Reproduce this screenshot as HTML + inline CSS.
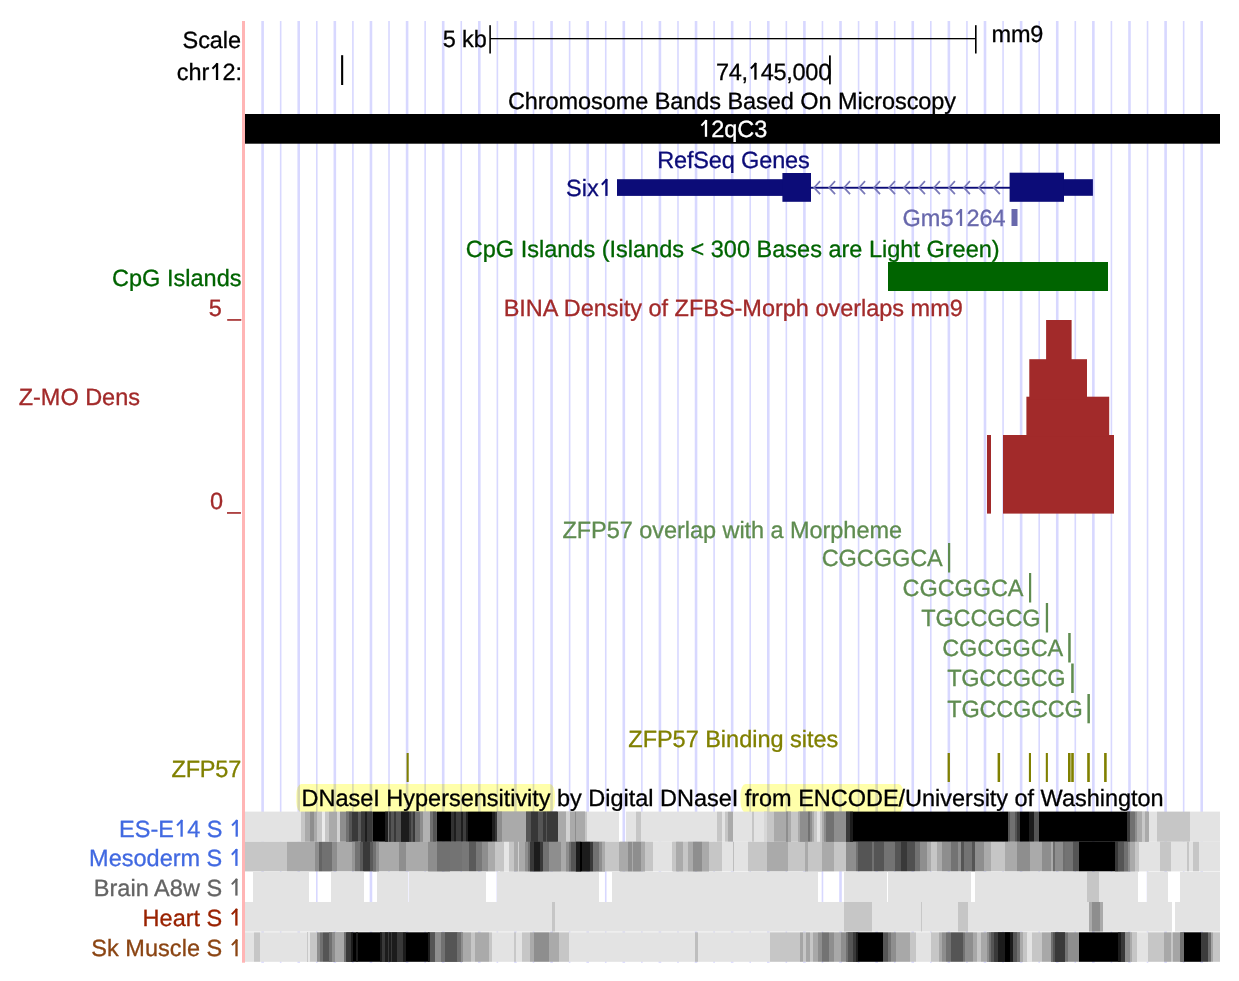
<!DOCTYPE html>
<html><head><meta charset="utf-8"><style>
html,body{margin:0;padding:0;background:#fff;}
body{width:1239px;height:981px;overflow:hidden;}
svg{display:block;}
text{font-family:"Liberation Sans",sans-serif;font-size:23.5px;text-rendering:geometricPrecision;stroke-width:0.3px;}
</style></head><body>
<svg width="1239" height="981" viewBox="0 0 1239 981">
<rect x="0" y="0" width="1239" height="981" fill="#fff"/>
<g fill="#d8d8ff"><rect x="261.30" y="21" width="2.6" height="941.8"/><rect x="279.86" y="21" width="1.6" height="941.8"/><rect x="297.42" y="21" width="2.6" height="941.8"/><rect x="315.98" y="21" width="1.6" height="941.8"/><rect x="333.54" y="21" width="2.6" height="941.8"/><rect x="352.10" y="21" width="1.6" height="941.8"/><rect x="369.66" y="21" width="2.6" height="941.8"/><rect x="388.22" y="21" width="1.6" height="941.8"/><rect x="405.78" y="21" width="2.6" height="941.8"/><rect x="424.34" y="21" width="1.6" height="941.8"/><rect x="441.90" y="21" width="2.6" height="941.8"/><rect x="460.46" y="21" width="1.6" height="941.8"/><rect x="478.02" y="21" width="2.6" height="941.8"/><rect x="496.58" y="21" width="1.6" height="941.8"/><rect x="514.14" y="21" width="2.6" height="941.8"/><rect x="532.70" y="21" width="1.6" height="941.8"/><rect x="550.26" y="21" width="2.6" height="941.8"/><rect x="568.82" y="21" width="1.6" height="941.8"/><rect x="586.38" y="21" width="2.6" height="941.8"/><rect x="604.94" y="21" width="1.6" height="941.8"/><rect x="622.50" y="21" width="2.6" height="941.8"/><rect x="641.06" y="21" width="1.6" height="941.8"/><rect x="658.62" y="21" width="2.6" height="941.8"/><rect x="677.18" y="21" width="1.6" height="941.8"/><rect x="694.74" y="21" width="2.6" height="941.8"/><rect x="713.30" y="21" width="1.6" height="941.8"/><rect x="730.86" y="21" width="2.6" height="941.8"/><rect x="749.42" y="21" width="1.6" height="941.8"/><rect x="766.98" y="21" width="2.6" height="941.8"/><rect x="785.54" y="21" width="1.6" height="941.8"/><rect x="803.10" y="21" width="2.6" height="941.8"/><rect x="821.66" y="21" width="1.6" height="941.8"/><rect x="839.22" y="21" width="2.6" height="941.8"/><rect x="857.78" y="21" width="1.6" height="941.8"/><rect x="875.34" y="21" width="2.6" height="941.8"/><rect x="893.90" y="21" width="1.6" height="941.8"/><rect x="911.46" y="21" width="2.6" height="941.8"/><rect x="930.02" y="21" width="1.6" height="941.8"/><rect x="947.58" y="21" width="2.6" height="941.8"/><rect x="966.14" y="21" width="1.6" height="941.8"/><rect x="983.70" y="21" width="2.6" height="941.8"/><rect x="1002.26" y="21" width="1.6" height="941.8"/><rect x="1019.82" y="21" width="2.6" height="941.8"/><rect x="1038.38" y="21" width="1.6" height="941.8"/><rect x="1055.94" y="21" width="2.6" height="941.8"/><rect x="1074.50" y="21" width="1.6" height="941.8"/><rect x="1092.06" y="21" width="2.6" height="941.8"/><rect x="1110.62" y="21" width="1.6" height="941.8"/><rect x="1128.18" y="21" width="2.6" height="941.8"/><rect x="1146.74" y="21" width="1.6" height="941.8"/><rect x="1164.30" y="21" width="2.6" height="941.8"/><rect x="1182.86" y="21" width="1.6" height="941.8"/><rect x="1200.42" y="21" width="2.6" height="941.8"/></g>
<rect x="242" y="21" width="3" height="941.7" fill="#ffb5b5"/>
<g fill="#000">
<rect x="489.3" y="25.2" width="1.6" height="28.3"/>
<rect x="975" y="25.2" width="1.6" height="28.3"/>
<rect x="490" y="38" width="486" height="1.3"/>
<rect x="341.1" y="55.2" width="2.1" height="29.8"/>
<rect x="829" y="55.4" width="1.8" height="29"/>
<rect x="245" y="114" width="975" height="29.7"/>
</g>
<text x="182.6" y="47.9" textLength="58.4" lengthAdjust="spacing" fill="#000" stroke="#000">Scale</text><text x="176.8" y="80.0" textLength="65.33" lengthAdjust="spacing" fill="#000" stroke="#000">chr&#x2007;2:</text><rect x="215.88" y="63.20" width="2.3" height="16.8" fill="#000"/><path d="M217.63 63.40 L212.43 68.80" stroke="#000" stroke-width="2" fill="none"/><text x="442.7" y="47.4" textLength="44.02" lengthAdjust="spacing" fill="#000" stroke="#000">5 kb</text><text x="991.6" y="41.8" textLength="51.63" lengthAdjust="spacing" fill="#000" stroke="#000">mm9</text><text x="716.0" y="79.7" textLength="115.22" lengthAdjust="spacing" fill="#000" stroke="#000">74,&#x2007;45,000</text><rect x="754.30" y="62.90" width="2.3" height="16.8" fill="#000"/><path d="M756.05 63.10 L750.85 68.50" stroke="#000" stroke-width="2" fill="none"/><text x="507.9" y="108.9" textLength="448.21" lengthAdjust="spacing" fill="#000" stroke="#000">Chromosome Bands Based On Microscopy</text><text x="698.4" y="136.8" textLength="68.85" lengthAdjust="spacing" fill="#fff" stroke="#fff">&#x2007;2qC3</text><rect x="704.84" y="120.00" width="2.3" height="16.8" fill="#fff"/><path d="M706.59 120.20 L701.39 125.60" stroke="#fff" stroke-width="2" fill="none"/>
<g fill="#0c0c78">
<rect x="617" y="179.2" width="166" height="16.7"/>
<rect x="782.4" y="173" width="28.6" height="28.8"/>
<rect x="811" y="186.8" width="199" height="1.9"/>
<rect x="1009.6" y="172.7" width="54.4" height="29.1"/>
<rect x="1063.9" y="179.2" width="29" height="16.6"/>
</g>
<g fill="none" stroke="#7878b8" stroke-width="1.7"><path d="M820.10 181.2 L814.10 187.7 L820.10 194.2"/><path d="M835.08 181.2 L829.08 187.7 L835.08 194.2"/><path d="M850.06 181.2 L844.06 187.7 L850.06 194.2"/><path d="M865.04 181.2 L859.04 187.7 L865.04 194.2"/><path d="M880.02 181.2 L874.02 187.7 L880.02 194.2"/><path d="M895.00 181.2 L889.00 187.7 L895.00 194.2"/><path d="M909.98 181.2 L903.98 187.7 L909.98 194.2"/><path d="M924.96 181.2 L918.96 187.7 L924.96 194.2"/><path d="M939.94 181.2 L933.94 187.7 L939.94 194.2"/><path d="M954.92 181.2 L948.92 187.7 L954.92 194.2"/><path d="M969.90 181.2 L963.90 187.7 L969.90 194.2"/><path d="M984.88 181.2 L978.88 187.7 L984.88 194.2"/><path d="M999.86 181.2 L993.86 187.7 L999.86 194.2"/></g>
<text x="657.2" y="168.3" textLength="152.56" lengthAdjust="spacing" fill="#0c0c78" stroke="#0c0c78">RefSeq Genes</text><text x="566.0" y="195.9" textLength="45.92" lengthAdjust="spacing" fill="#0c0c78" stroke="#0c0c78">Six&#x2007;</text><rect x="605.28" y="179.10" width="2.3" height="16.8" fill="#0c0c78"/><path d="M607.03 179.30 L601.83 184.70" stroke="#0c0c78" stroke-width="2" fill="none"/><text x="902.6" y="226.0" textLength="103.0" lengthAdjust="spacing" fill="#6868ac" stroke="#6868ac">Gm5&#x2007;264</text><rect x="959.85" y="209.20" width="2.3" height="16.8" fill="#6868ac"/><path d="M961.60 209.40 L956.40 214.80" stroke="#6868ac" stroke-width="2" fill="none"/>
<rect x="1011.5" y="209" width="6" height="17" fill="#6868ac"/>
<rect x="888" y="262" width="220" height="29" fill="#006400"/>
<text x="465.8" y="256.6" textLength="533.81" lengthAdjust="spacing" fill="#006400" stroke="#006400">CpG Islands (Islands &lt; 300 Bases are Light Green)</text><text x="112.0" y="285.5" textLength="129.51" lengthAdjust="spacing" fill="#006400" stroke="#006400">CpG Islands</text>
<g fill="#a22a2a">
<rect x="987" y="435" width="4" height="78.6"/>
<rect x="1003" y="435" width="111" height="78.6"/>
<rect x="1026.4" y="396.7" width="82.8" height="40"/>
<rect x="1029.3" y="359.2" width="57.7" height="40"/>
<rect x="1046.1" y="320" width="25.5" height="40"/>
</g>
<text x="208.7" y="315.6" textLength="32.07" lengthAdjust="spacing" fill="#a22a2a" stroke="#a22a2a">5 _</text><text x="503.7" y="315.9" textLength="459.1" lengthAdjust="spacing" fill="#a22a2a" stroke="#a22a2a">BINA Density of ZFBS-Morph overlaps mm9</text><text x="18.7" y="405.2" textLength="121.24" lengthAdjust="spacing" fill="#a22a2a" stroke="#a22a2a">Z-MO Dens</text><text x="210.0" y="508.8" textLength="30.67" lengthAdjust="spacing" fill="#a22a2a" stroke="#a22a2a">0 _</text>
<g fill="#5f8c50">
<rect x="948" y="543" width="2.2" height="29.5"/>
<rect x="1029" y="573" width="2.2" height="29.5"/>
<rect x="1045.8" y="603" width="2.3" height="29.5"/>
<rect x="1068.2" y="633" width="2.5" height="29.5"/>
<rect x="1071.2" y="663.5" width="2.5" height="29.5"/>
<rect x="1087.4" y="694" width="2.5" height="29.3"/>
</g>
<text x="562.5" y="538.1" textLength="339.51" lengthAdjust="spacing" fill="#5f8c50" stroke="#5f8c50">ZFP57 overlap with a Morpheme</text><text x="821.7" y="566.0" textLength="121.04" lengthAdjust="spacing" fill="#5f8c50" stroke="#5f8c50">CGCGGCA</text><text x="902.6" y="595.8" textLength="120.84" lengthAdjust="spacing" fill="#5f8c50" stroke="#5f8c50">CGCGGCA</text><text x="921.2" y="626.0" textLength="119.31" lengthAdjust="spacing" fill="#5f8c50" stroke="#5f8c50">TGCCGCG</text><text x="942.2" y="655.8" textLength="121.04" lengthAdjust="spacing" fill="#5f8c50" stroke="#5f8c50">CGCGGCA</text><text x="947.3" y="686.1" textLength="118.31" lengthAdjust="spacing" fill="#5f8c50" stroke="#5f8c50">TGCCGCG</text><text x="947.3" y="716.6" textLength="135.48" lengthAdjust="spacing" fill="#5f8c50" stroke="#5f8c50">TGCCGCCG</text>
<g fill="#808000">
<rect x="406.6" y="753" width="2.1" height="29"/>
<rect x="947.6" y="753" width="2.3" height="29"/>
<rect x="997.6" y="753" width="2.5" height="29"/>
<rect x="1028.9" y="753" width="2.1" height="29"/>
<rect x="1045.8" y="753" width="2.1" height="29"/>
<rect x="1068" y="753" width="2.6" height="29"/>
<rect x="1071.2" y="753" width="2.6" height="29"/>
<rect x="1087.2" y="753" width="2.6" height="29"/>
<rect x="1104.1" y="753" width="2.6" height="29"/>
</g>
<text x="628.3" y="747.3" textLength="209.9" lengthAdjust="spacing" fill="#808000" stroke="#808000">ZFP57 Binding sites</text><text x="171.5" y="776.5" textLength="69.73" lengthAdjust="spacing" fill="#808000" stroke="#808000">ZFP57</text>
<g style="mix-blend-mode:multiply" fill="#ffffaa">
<rect x="296.3" y="784" width="258.6" height="28.4" rx="5" ry="11"/>
<rect x="740.5" y="784" width="163.1" height="28.4" rx="5" ry="11"/>
</g>
<text x="301.6" y="806.3" textLength="862.07" lengthAdjust="spacing" fill="#000" stroke="#000">DNaseI Hypersensitivity by Digital DNaseI from ENCODE/University of Washington</text>
<text x="119.0" y="836.7" textLength="123.2" lengthAdjust="spacing" fill="#4169e1" stroke="#4169e1">ES-E&#x2007;4 S &#x2007;</text><rect x="180.47" y="819.90" width="2.3" height="16.8" fill="#4169e1"/><path d="M182.22 820.10 L177.02 825.50" stroke="#4169e1" stroke-width="2" fill="none"/><rect x="235.56" y="819.90" width="2.3" height="16.8" fill="#4169e1"/><path d="M237.31 820.10 L232.11 825.50" stroke="#4169e1" stroke-width="2" fill="none"/><text x="89.1" y="865.9" textLength="152.81" lengthAdjust="spacing" fill="#4169e1" stroke="#4169e1">Mesoderm S &#x2007;</text><rect x="235.27" y="849.10" width="2.3" height="16.8" fill="#4169e1"/><path d="M237.02 849.30 L231.82 854.70" stroke="#4169e1" stroke-width="2" fill="none"/><text x="93.7" y="895.6" textLength="148.21" lengthAdjust="spacing" fill="#646464" stroke="#646464">Brain A8w S &#x2007;</text><rect x="235.27" y="878.80" width="2.3" height="16.8" fill="#646464"/><path d="M237.02 879.00 L231.82 884.40" stroke="#646464" stroke-width="2" fill="none"/><text x="142.6" y="925.6" textLength="99.28" lengthAdjust="spacing" fill="#992200" stroke="#992200">Heart S &#x2007;</text><rect x="235.24" y="908.80" width="2.3" height="16.8" fill="#992200"/><path d="M236.99 909.00 L231.79 914.40" stroke="#992200" stroke-width="2" fill="none"/><text x="91.2" y="956.3" textLength="150.8" lengthAdjust="spacing" fill="#8b4513" stroke="#8b4513">Sk Muscle S &#x2007;</text><rect x="235.36" y="939.50" width="2.3" height="16.8" fill="#8b4513"/><path d="M237.11 939.70 L231.91 945.10" stroke="#8b4513" stroke-width="2" fill="none"/>
<g><rect x="245" y="811.6" width="56" height="30.2" fill="#e3e3e3"/><rect x="301" y="811.6" width="4" height="30.2" fill="#c6c6c6"/><rect x="305" y="811.6" width="5" height="30.2" fill="#aaaaaa"/><rect x="310" y="811.6" width="4" height="30.2" fill="#8e8e8e"/><rect x="314" y="811.6" width="3" height="30.2" fill="#aaaaaa"/><rect x="317" y="811.6" width="5" height="30.2" fill="#c6c6c6"/><rect x="322" y="811.6" width="3" height="30.2" fill="#ebebeb"/><rect x="325" y="811.6" width="4" height="30.2" fill="#c6c6c6"/><rect x="329" y="811.6" width="8" height="30.2" fill="#aaaaaa"/><rect x="337" y="811.6" width="3" height="30.2" fill="#d2d2d2"/><rect x="340" y="811.6" width="6" height="30.2" fill="#8e8e8e"/><rect x="346" y="811.6" width="6" height="30.2" fill="#646464"/><rect x="352" y="811.6" width="6" height="30.2" fill="#393939"/><rect x="358" y="811.6" width="3" height="30.2" fill="#5a5a5a"/><rect x="361" y="811.6" width="6" height="30.2" fill="#3c3c3c"/><rect x="367" y="811.6" width="6" height="30.2" fill="#464646"/><rect x="373" y="811.6" width="12" height="30.2" fill="#000000"/><rect x="385" y="811.6" width="4" height="30.2" fill="#323232"/><rect x="389" y="811.6" width="5" height="30.2" fill="#646464"/><rect x="394" y="811.6" width="7" height="30.2" fill="#555555"/><rect x="401" y="811.6" width="8" height="30.2" fill="#1c1c1c"/><rect x="409" y="811.6" width="6" height="30.2" fill="#555555"/><rect x="415" y="811.6" width="4" height="30.2" fill="#717171"/><rect x="419" y="811.6" width="4" height="30.2" fill="#8e8e8e"/><rect x="423" y="811.6" width="7" height="30.2" fill="#b2b2b2"/><rect x="430" y="811.6" width="3" height="30.2" fill="#787878"/><rect x="433" y="811.6" width="4" height="30.2" fill="#5a5a5a"/><rect x="437" y="811.6" width="14" height="30.2" fill="#000000"/><rect x="451" y="811.6" width="3" height="30.2" fill="#323232"/><rect x="454" y="811.6" width="2" height="30.2" fill="#1e1e1e"/><rect x="456" y="811.6" width="5" height="30.2" fill="#3c3c3c"/><rect x="461" y="811.6" width="2" height="30.2" fill="#1e1e1e"/><rect x="463" y="811.6" width="3" height="30.2" fill="#3e3e3e"/><rect x="466" y="811.6" width="2" height="30.2" fill="#1e1e1e"/><rect x="468" y="811.6" width="24" height="30.2" fill="#000000"/><rect x="492" y="811.6" width="3" height="30.2" fill="#1e1e1e"/><rect x="495" y="811.6" width="2" height="30.2" fill="#373737"/><rect x="497" y="811.6" width="5" height="30.2" fill="#737373"/><rect x="502" y="811.6" width="24" height="30.2" fill="#aaaaaa"/><rect x="526" y="811.6" width="5" height="30.2" fill="#555555"/><rect x="531" y="811.6" width="4" height="30.2" fill="#464646"/><rect x="535" y="811.6" width="9" height="30.2" fill="#555555"/><rect x="544" y="811.6" width="3" height="30.2" fill="#464646"/><rect x="547" y="811.6" width="10" height="30.2" fill="#393939"/><rect x="557" y="811.6" width="9" height="30.2" fill="#aaaaaa"/><rect x="566" y="811.6" width="4" height="30.2" fill="#c6c6c6"/><rect x="570" y="811.6" width="15" height="30.2" fill="#aaaaaa"/><rect x="585" y="811.6" width="2" height="30.2" fill="#c6c6c6"/><rect x="587" y="811.6" width="32" height="30.2" fill="#e3e3e3"/><rect x="626" y="811.6" width="10" height="30.2" fill="#e3e3e3"/><rect x="636" y="811.6" width="5" height="30.2" fill="#c6c6c6"/><rect x="641" y="811.6" width="76" height="30.2" fill="#e3e3e3"/><rect x="717" y="811.6" width="5" height="30.2" fill="#c6c6c6"/><rect x="722" y="811.6" width="3" height="30.2" fill="#e3e3e3"/><rect x="725" y="811.6" width="3" height="30.2" fill="#c6c6c6"/><rect x="728" y="811.6" width="5" height="30.2" fill="#aaaaaa"/><rect x="733" y="811.6" width="19" height="30.2" fill="#e3e3e3"/><rect x="752" y="811.6" width="2" height="30.2" fill="#c6c6c6"/><rect x="754" y="811.6" width="10" height="30.2" fill="#e3e3e3"/><rect x="764" y="811.6" width="10" height="30.2" fill="#c6c6c6"/><rect x="774" y="811.6" width="12" height="30.2" fill="#aaaaaa"/><rect x="786" y="811.6" width="5" height="30.2" fill="#8e8e8e"/><rect x="791" y="811.6" width="8" height="30.2" fill="#c6c6c6"/><rect x="799" y="811.6" width="9" height="30.2" fill="#8e8e8e"/><rect x="808" y="811.6" width="4" height="30.2" fill="#717171"/><rect x="812" y="811.6" width="3" height="30.2" fill="#aaaaaa"/><rect x="815" y="811.6" width="2" height="30.2" fill="#c6c6c6"/><rect x="817" y="811.6" width="3" height="30.2" fill="#ebebeb"/><rect x="820" y="811.6" width="4" height="30.2" fill="#c6c6c6"/><rect x="824" y="811.6" width="2" height="30.2" fill="#aaaaaa"/><rect x="826" y="811.6" width="5" height="30.2" fill="#717171"/><rect x="831" y="811.6" width="15" height="30.2" fill="#8e8e8e"/><rect x="846" y="811.6" width="4" height="30.2" fill="#393939"/><rect x="850" y="811.6" width="3" height="30.2" fill="#1c1c1c"/><rect x="853" y="811.6" width="155" height="30.2" fill="#000000"/><rect x="1008" y="811.6" width="2" height="30.2" fill="#555555"/><rect x="1010" y="811.6" width="5" height="30.2" fill="#717171"/><rect x="1015" y="811.6" width="2" height="30.2" fill="#555555"/><rect x="1017" y="811.6" width="3" height="30.2" fill="#393939"/><rect x="1020" y="811.6" width="9" height="30.2" fill="#000000"/><rect x="1029" y="811.6" width="5" height="30.2" fill="#1c1c1c"/><rect x="1034" y="811.6" width="5" height="30.2" fill="#555555"/><rect x="1039" y="811.6" width="88" height="30.2" fill="#000000"/><rect x="1127" y="811.6" width="3" height="30.2" fill="#393939"/><rect x="1130" y="811.6" width="4" height="30.2" fill="#6e6e6e"/><rect x="1134" y="811.6" width="4" height="30.2" fill="#8e8e8e"/><rect x="1138" y="811.6" width="4" height="30.2" fill="#a0a0a0"/><rect x="1142" y="811.6" width="3" height="30.2" fill="#c6c6c6"/><rect x="1145" y="811.6" width="3" height="30.2" fill="#a5a5a5"/><rect x="1148" y="811.6" width="9" height="30.2" fill="#e3e3e3"/><rect x="1157" y="811.6" width="33" height="30.2" fill="#c6c6c6"/><rect x="1190" y="811.6" width="30" height="30.2" fill="#e3e3e3"/><rect x="245" y="841.8" width="42" height="29.6" fill="#c6c6c6"/><rect x="287" y="841.8" width="28" height="29.6" fill="#aaaaaa"/><rect x="315" y="841.8" width="4" height="29.6" fill="#8e8e8e"/><rect x="319" y="841.8" width="3" height="29.6" fill="#646464"/><rect x="322" y="841.8" width="10" height="29.6" fill="#717171"/><rect x="332" y="841.8" width="5" height="29.6" fill="#8e8e8e"/><rect x="337" y="841.8" width="15" height="29.6" fill="#aaaaaa"/><rect x="352" y="841.8" width="3" height="29.6" fill="#969696"/><rect x="355" y="841.8" width="5" height="29.6" fill="#737373"/><rect x="360" y="841.8" width="3" height="29.6" fill="#5a5a5a"/><rect x="363" y="841.8" width="7" height="29.6" fill="#393939"/><rect x="370" y="841.8" width="3" height="29.6" fill="#5a5a5a"/><rect x="373" y="841.8" width="3" height="29.6" fill="#787878"/><rect x="376" y="841.8" width="3" height="29.6" fill="#969696"/><rect x="379" y="841.8" width="20" height="29.6" fill="#aaaaaa"/><rect x="399" y="841.8" width="7" height="29.6" fill="#8e8e8e"/><rect x="406" y="841.8" width="23" height="29.6" fill="#aaaaaa"/><rect x="429" y="841.8" width="13" height="29.6" fill="#8e8e8e"/><rect x="442" y="841.8" width="8" height="29.6" fill="#7d7d7d"/><rect x="450" y="841.8" width="12" height="29.6" fill="#737373"/><rect x="462" y="841.8" width="7" height="29.6" fill="#787878"/><rect x="469" y="841.8" width="7" height="29.6" fill="#5a5a5a"/><rect x="476" y="841.8" width="6" height="29.6" fill="#787878"/><rect x="482" y="841.8" width="6" height="29.6" fill="#8e8e8e"/><rect x="488" y="841.8" width="7" height="29.6" fill="#aaaaaa"/><rect x="495" y="841.8" width="9" height="29.6" fill="#c6c6c6"/><rect x="504" y="841.8" width="5" height="29.6" fill="#e6e6e6"/><rect x="509" y="841.8" width="5" height="29.6" fill="#c6c6c6"/><rect x="514" y="841.8" width="12" height="29.6" fill="#aaaaaa"/><rect x="526" y="841.8" width="4" height="29.6" fill="#8e8e8e"/><rect x="530" y="841.8" width="4" height="29.6" fill="#393939"/><rect x="534" y="841.8" width="8" height="29.6" fill="#1c1c1c"/><rect x="542" y="841.8" width="7" height="29.6" fill="#717171"/><rect x="549" y="841.8" width="11" height="29.6" fill="#8e8e8e"/><rect x="560" y="841.8" width="6" height="29.6" fill="#aaaaaa"/><rect x="566" y="841.8" width="5" height="29.6" fill="#717171"/><rect x="571" y="841.8" width="4" height="29.6" fill="#555555"/><rect x="575" y="841.8" width="6" height="29.6" fill="#0f0f0f"/><rect x="581" y="841.8" width="9" height="29.6" fill="#1c1c1c"/><rect x="590" y="841.8" width="6" height="29.6" fill="#555555"/><rect x="596" y="841.8" width="9" height="29.6" fill="#828282"/><rect x="605" y="841.8" width="14" height="29.6" fill="#c6c6c6"/><rect x="619" y="841.8" width="9" height="29.6" fill="#aaaaaa"/><rect x="628" y="841.8" width="5" height="29.6" fill="#8e8e8e"/><rect x="633" y="841.8" width="7" height="29.6" fill="#878787"/><rect x="640" y="841.8" width="5" height="29.6" fill="#a0a0a0"/><rect x="645" y="841.8" width="8" height="29.6" fill="#c6c6c6"/><rect x="653" y="841.8" width="19" height="29.6" fill="#e3e3e3"/><rect x="672" y="841.8" width="4" height="29.6" fill="#c6c6c6"/><rect x="676" y="841.8" width="7" height="29.6" fill="#aaaaaa"/><rect x="683" y="841.8" width="5" height="29.6" fill="#c6c6c6"/><rect x="688" y="841.8" width="5" height="29.6" fill="#a0a0a0"/><rect x="693" y="841.8" width="9" height="29.6" fill="#878787"/><rect x="702" y="841.8" width="7" height="29.6" fill="#a5a5a5"/><rect x="709" y="841.8" width="13" height="29.6" fill="#c6c6c6"/><rect x="722" y="841.8" width="11" height="29.6" fill="#e3e3e3"/><rect x="733" y="841.8" width="1" height="29.6" fill="#bebebe"/><rect x="734" y="841.8" width="14" height="29.6" fill="#e3e3e3"/><rect x="748" y="841.8" width="19" height="29.6" fill="#c6c6c6"/><rect x="767" y="841.8" width="21" height="29.6" fill="#aaaaaa"/><rect x="788" y="841.8" width="17" height="29.6" fill="#c6c6c6"/><rect x="805" y="841.8" width="3" height="29.6" fill="#aaaaaa"/><rect x="808" y="841.8" width="14" height="29.6" fill="#c6c6c6"/><rect x="822" y="841.8" width="12" height="29.6" fill="#aaaaaa"/><rect x="834" y="841.8" width="12" height="29.6" fill="#c6c6c6"/><rect x="846" y="841.8" width="10" height="29.6" fill="#8e8e8e"/><rect x="856" y="841.8" width="2" height="29.6" fill="#717171"/><rect x="858" y="841.8" width="14" height="29.6" fill="#555555"/><rect x="872" y="841.8" width="2" height="29.6" fill="#717171"/><rect x="874" y="841.8" width="10" height="29.6" fill="#555555"/><rect x="884" y="841.8" width="11" height="29.6" fill="#737373"/><rect x="895" y="841.8" width="6" height="29.6" fill="#555555"/><rect x="901" y="841.8" width="6" height="29.6" fill="#393939"/><rect x="907" y="841.8" width="8" height="29.6" fill="#505050"/><rect x="915" y="841.8" width="5" height="29.6" fill="#717171"/><rect x="920" y="841.8" width="7" height="29.6" fill="#8e8e8e"/><rect x="927" y="841.8" width="4" height="29.6" fill="#aaaaaa"/><rect x="931" y="841.8" width="6" height="29.6" fill="#c6c6c6"/><rect x="937" y="841.8" width="5" height="29.6" fill="#aaaaaa"/><rect x="942" y="841.8" width="9" height="29.6" fill="#8e8e8e"/><rect x="951" y="841.8" width="7" height="29.6" fill="#737373"/><rect x="958" y="841.8" width="3" height="29.6" fill="#8e8e8e"/><rect x="961" y="841.8" width="3" height="29.6" fill="#555555"/><rect x="964" y="841.8" width="8" height="29.6" fill="#737373"/><rect x="972" y="841.8" width="3" height="29.6" fill="#555555"/><rect x="975" y="841.8" width="9" height="29.6" fill="#8e8e8e"/><rect x="984" y="841.8" width="7" height="29.6" fill="#aaaaaa"/><rect x="991" y="841.8" width="14" height="29.6" fill="#c6c6c6"/><rect x="1005" y="841.8" width="12" height="29.6" fill="#aaaaaa"/><rect x="1017" y="841.8" width="13" height="29.6" fill="#8e8e8e"/><rect x="1030" y="841.8" width="12" height="29.6" fill="#aaaaaa"/><rect x="1042" y="841.8" width="9" height="29.6" fill="#8e8e8e"/><rect x="1051" y="841.8" width="2" height="29.6" fill="#aaaaaa"/><rect x="1053" y="841.8" width="2" height="29.6" fill="#6e6e6e"/><rect x="1055" y="841.8" width="8" height="29.6" fill="#8e8e8e"/><rect x="1063" y="841.8" width="2" height="29.6" fill="#6e6e6e"/><rect x="1065" y="841.8" width="8" height="29.6" fill="#737373"/><rect x="1073" y="841.8" width="6" height="29.6" fill="#555555"/><rect x="1079" y="841.8" width="36" height="29.6" fill="#000000"/><rect x="1115" y="841.8" width="5" height="29.6" fill="#3c3c3c"/><rect x="1120" y="841.8" width="4" height="29.6" fill="#5a5a5a"/><rect x="1124" y="841.8" width="6" height="29.6" fill="#6e6e6e"/><rect x="1130" y="841.8" width="5" height="29.6" fill="#a8a8a8"/><rect x="1135" y="841.8" width="4" height="29.6" fill="#c6c6c6"/><rect x="1139" y="841.8" width="21" height="29.6" fill="#e3e3e3"/><rect x="1160" y="841.8" width="11" height="29.6" fill="#c6c6c6"/><rect x="1171" y="841.8" width="16" height="29.6" fill="#e3e3e3"/><rect x="1187" y="841.8" width="2" height="29.6" fill="#c6c6c6"/><rect x="1189" y="841.8" width="4" height="29.6" fill="#e3e3e3"/><rect x="1193" y="841.8" width="6" height="29.6" fill="#c6c6c6"/><rect x="1199" y="841.8" width="21" height="29.6" fill="#e3e3e3"/><rect x="253" y="871.8" width="56" height="30.2" fill="#e3e3e3"/><rect x="331" y="871.8" width="33" height="30.2" fill="#e3e3e3"/><rect x="377" y="871.8" width="31" height="30.2" fill="#e3e3e3"/><rect x="409" y="871.8" width="77" height="30.2" fill="#e3e3e3"/><rect x="497" y="871.8" width="102" height="30.2" fill="#e3e3e3"/><rect x="612" y="871.8" width="206" height="30.2" fill="#e3e3e3"/><rect x="844" y="871.8" width="43" height="30.2" fill="#e3e3e3"/><rect x="888" y="871.8" width="83" height="30.2" fill="#e3e3e3"/><rect x="975" y="871.8" width="112" height="30.2" fill="#e3e3e3"/><rect x="1087" y="871.8" width="12" height="30.2" fill="#c6c6c6"/><rect x="1099" y="871.8" width="39" height="30.2" fill="#e3e3e3"/><rect x="1147" y="871.8" width="21" height="30.2" fill="#e3e3e3"/><rect x="1180" y="871.8" width="40" height="30.2" fill="#e3e3e3"/><rect x="245" y="902" width="307" height="29.6" fill="#e3e3e3"/><rect x="552" y="902" width="3" height="29.6" fill="#c6c6c6"/><rect x="555" y="902" width="289" height="29.6" fill="#e3e3e3"/><rect x="844" y="902" width="28" height="29.6" fill="#c6c6c6"/><rect x="872" y="902" width="49" height="29.6" fill="#e3e3e3"/><rect x="921" y="902" width="1" height="29.6" fill="#c8c8c8"/><rect x="922" y="902" width="36" height="29.6" fill="#e3e3e3"/><rect x="958" y="902" width="10" height="29.6" fill="#c6c6c6"/><rect x="968" y="902" width="121" height="29.6" fill="#e3e3e3"/><rect x="1089" y="902" width="3" height="29.6" fill="#aaaaaa"/><rect x="1092" y="902" width="8" height="29.6" fill="#8e8e8e"/><rect x="1100" y="902" width="3" height="29.6" fill="#aaaaaa"/><rect x="1103" y="902" width="69" height="29.6" fill="#e3e3e3"/><rect x="1175" y="902" width="45" height="29.6" fill="#e3e3e3"/><rect x="245" y="932.3" width="9" height="29.5" fill="#e3e3e3"/><rect x="254" y="932.3" width="6" height="29.5" fill="#c6c6c6"/><rect x="260" y="932.3" width="47" height="29.5" fill="#e3e3e3"/><rect x="307" y="932.3" width="1" height="29.5" fill="#bebebe"/><rect x="308" y="932.3" width="2" height="29.5" fill="#e3e3e3"/><rect x="310" y="932.3" width="7" height="29.5" fill="#c6c6c6"/><rect x="317" y="932.3" width="3" height="29.5" fill="#8e8e8e"/><rect x="320" y="932.3" width="3" height="29.5" fill="#717171"/><rect x="323" y="932.3" width="7" height="29.5" fill="#555555"/><rect x="330" y="932.3" width="5" height="29.5" fill="#787878"/><rect x="335" y="932.3" width="9" height="29.5" fill="#aaaaaa"/><rect x="344" y="932.3" width="3" height="29.5" fill="#717171"/><rect x="347" y="932.3" width="6" height="29.5" fill="#393939"/><rect x="353" y="932.3" width="28" height="29.5" fill="#000000"/><rect x="381" y="932.3" width="4" height="29.5" fill="#323232"/><rect x="385" y="932.3" width="3" height="29.5" fill="#141414"/><rect x="388" y="932.3" width="3" height="29.5" fill="#3c3c3c"/><rect x="391" y="932.3" width="6" height="29.5" fill="#1c1c1c"/><rect x="397" y="932.3" width="9" height="29.5" fill="#3c3c3c"/><rect x="406" y="932.3" width="23" height="29.5" fill="#000000"/><rect x="429" y="932.3" width="6" height="29.5" fill="#5a5a5a"/><rect x="435" y="932.3" width="6" height="29.5" fill="#969696"/><rect x="441" y="932.3" width="4" height="29.5" fill="#787878"/><rect x="445" y="932.3" width="13" height="29.5" fill="#5a5a5a"/><rect x="458" y="932.3" width="5" height="29.5" fill="#828282"/><rect x="463" y="932.3" width="8" height="29.5" fill="#aaaaaa"/><rect x="471" y="932.3" width="4" height="29.5" fill="#c6c6c6"/><rect x="475" y="932.3" width="14" height="29.5" fill="#aaaaaa"/><rect x="489" y="932.3" width="3" height="29.5" fill="#c6c6c6"/><rect x="492" y="932.3" width="22" height="29.5" fill="#e3e3e3"/><rect x="514" y="932.3" width="2" height="29.5" fill="#c8c8c8"/><rect x="516" y="932.3" width="6" height="29.5" fill="#e3e3e3"/><rect x="522" y="932.3" width="8" height="29.5" fill="#c6c6c6"/><rect x="530" y="932.3" width="4" height="29.5" fill="#aaaaaa"/><rect x="534" y="932.3" width="15" height="29.5" fill="#8e8e8e"/><rect x="549" y="932.3" width="10" height="29.5" fill="#aaaaaa"/><rect x="559" y="932.3" width="10" height="29.5" fill="#c6c6c6"/><rect x="569" y="932.3" width="126" height="29.5" fill="#e3e3e3"/><rect x="695" y="932.3" width="3" height="29.5" fill="#bebebe"/><rect x="698" y="932.3" width="72" height="29.5" fill="#e3e3e3"/><rect x="770" y="932.3" width="30" height="29.5" fill="#c6c6c6"/><rect x="800" y="932.3" width="3" height="29.5" fill="#a5a5a5"/><rect x="803" y="932.3" width="3" height="29.5" fill="#c6c6c6"/><rect x="806" y="932.3" width="4" height="29.5" fill="#a5a5a5"/><rect x="810" y="932.3" width="3" height="29.5" fill="#c6c6c6"/><rect x="813" y="932.3" width="5" height="29.5" fill="#a8a8a8"/><rect x="818" y="932.3" width="4" height="29.5" fill="#8e8e8e"/><rect x="822" y="932.3" width="7" height="29.5" fill="#737373"/><rect x="829" y="932.3" width="5" height="29.5" fill="#8e8e8e"/><rect x="834" y="932.3" width="7" height="29.5" fill="#a8a8a8"/><rect x="841" y="932.3" width="6" height="29.5" fill="#8e8e8e"/><rect x="847" y="932.3" width="6" height="29.5" fill="#5a5a5a"/><rect x="853" y="932.3" width="5" height="29.5" fill="#3c3c3c"/><rect x="858" y="932.3" width="25" height="29.5" fill="#000000"/><rect x="883" y="932.3" width="5" height="29.5" fill="#555555"/><rect x="888" y="932.3" width="3" height="29.5" fill="#737373"/><rect x="891" y="932.3" width="5" height="29.5" fill="#8e8e8e"/><rect x="896" y="932.3" width="14" height="29.5" fill="#a8a8a8"/><rect x="910" y="932.3" width="6" height="29.5" fill="#c6c6c6"/><rect x="916" y="932.3" width="15" height="29.5" fill="#e3e3e3"/><rect x="931" y="932.3" width="8" height="29.5" fill="#c6c6c6"/><rect x="939" y="932.3" width="3" height="29.5" fill="#a8a8a8"/><rect x="942" y="932.3" width="4" height="29.5" fill="#8e8e8e"/><rect x="946" y="932.3" width="5" height="29.5" fill="#737373"/><rect x="951" y="932.3" width="12" height="29.5" fill="#555555"/><rect x="963" y="932.3" width="2" height="29.5" fill="#737373"/><rect x="965" y="932.3" width="8" height="29.5" fill="#8e8e8e"/><rect x="973" y="932.3" width="4" height="29.5" fill="#a8a8a8"/><rect x="977" y="932.3" width="4" height="29.5" fill="#c6c6c6"/><rect x="981" y="932.3" width="6" height="29.5" fill="#a8a8a8"/><rect x="987" y="932.3" width="4" height="29.5" fill="#8e8e8e"/><rect x="991" y="932.3" width="4" height="29.5" fill="#555555"/><rect x="995" y="932.3" width="3" height="29.5" fill="#373737"/><rect x="998" y="932.3" width="7" height="29.5" fill="#1e1e1e"/><rect x="1005" y="932.3" width="5" height="29.5" fill="#000000"/><rect x="1010" y="932.3" width="4" height="29.5" fill="#282828"/><rect x="1014" y="932.3" width="3" height="29.5" fill="#505050"/><rect x="1017" y="932.3" width="3" height="29.5" fill="#737373"/><rect x="1020" y="932.3" width="3" height="29.5" fill="#aaaaaa"/><rect x="1023" y="932.3" width="5" height="29.5" fill="#c6c6c6"/><rect x="1028" y="932.3" width="4" height="29.5" fill="#e6e6e6"/><rect x="1032" y="932.3" width="10" height="29.5" fill="#c6c6c6"/><rect x="1042" y="932.3" width="9" height="29.5" fill="#a8a8a8"/><rect x="1051" y="932.3" width="4" height="29.5" fill="#6e6e6e"/><rect x="1055" y="932.3" width="10" height="29.5" fill="#3c3c3c"/><rect x="1065" y="932.3" width="3" height="29.5" fill="#737373"/><rect x="1068" y="932.3" width="11" height="29.5" fill="#8e8e8e"/><rect x="1079" y="932.3" width="39" height="29.5" fill="#000000"/><rect x="1118" y="932.3" width="2" height="29.5" fill="#1e1e1e"/><rect x="1120" y="932.3" width="5" height="29.5" fill="#3c3c3c"/><rect x="1125" y="932.3" width="5" height="29.5" fill="#8e8e8e"/><rect x="1130" y="932.3" width="7" height="29.5" fill="#c6c6c6"/><rect x="1137" y="932.3" width="11" height="29.5" fill="#e3e3e3"/><rect x="1148" y="932.3" width="16" height="29.5" fill="#c6c6c6"/><rect x="1164" y="932.3" width="7" height="29.5" fill="#a8a8a8"/><rect x="1171" y="932.3" width="2" height="29.5" fill="#c6c6c6"/><rect x="1173" y="932.3" width="8" height="29.5" fill="#a5a5a5"/><rect x="1181" y="932.3" width="3" height="29.5" fill="#646464"/><rect x="1184" y="932.3" width="17" height="29.5" fill="#000000"/><rect x="1201" y="932.3" width="7" height="29.5" fill="#3c3c3c"/><rect x="1208" y="932.3" width="3" height="29.5" fill="#6e6e6e"/><rect x="1211" y="932.3" width="2" height="29.5" fill="#a5a5a5"/><rect x="1213" y="932.3" width="7" height="29.5" fill="#c6c6c6"/><rect x="346" y="811.6" width="3" height="30.2" fill="#717171"/><rect x="349" y="811.6" width="3" height="30.2" fill="#555555"/><rect x="361" y="811.6" width="4" height="30.2" fill="#393939"/><rect x="365" y="811.6" width="2" height="30.2" fill="#1e1e1e"/><rect x="367" y="811.6" width="5" height="30.2" fill="#393939"/><rect x="385" y="811.6" width="3" height="30.2" fill="#1e1e1e"/><rect x="388" y="811.6" width="1" height="30.2" fill="#6e6e6e"/><rect x="389" y="811.6" width="2" height="30.2" fill="#393939"/><rect x="391" y="811.6" width="3" height="30.2" fill="#555555"/><rect x="394" y="811.6" width="2" height="30.2" fill="#393939"/><rect x="396" y="811.6" width="5" height="30.2" fill="#555555"/><rect x="401" y="811.6" width="8" height="30.2" fill="#1c1c1c"/><rect x="409" y="811.6" width="2" height="30.2" fill="#393939"/><rect x="411" y="811.6" width="2" height="30.2" fill="#555555"/><rect x="413" y="811.6" width="2" height="30.2" fill="#393939"/><rect x="415" y="811.6" width="5" height="30.2" fill="#717171"/><rect x="420" y="811.6" width="3" height="30.2" fill="#8e8e8e"/><rect x="423" y="811.6" width="7" height="30.2" fill="#b2b2b2"/><rect x="430" y="811.6" width="3" height="30.2" fill="#717171"/><rect x="433" y="811.6" width="3" height="30.2" fill="#555555"/><rect x="497" y="811.6" width="5" height="30.2" fill="#8e8e8e"/><rect x="502" y="811.6" width="24" height="30.2" fill="#aaaaaa"/><rect x="526" y="811.6" width="5" height="30.2" fill="#555555"/><rect x="531" y="811.6" width="7" height="30.2" fill="#373737"/><rect x="538" y="811.6" width="5" height="30.2" fill="#555555"/><rect x="543" y="811.6" width="3" height="30.2" fill="#393939"/><rect x="546" y="811.6" width="1" height="30.2" fill="#555555"/><rect x="547" y="811.6" width="11" height="30.2" fill="#393939"/><rect x="558" y="811.6" width="8" height="30.2" fill="#aaaaaa"/><rect x="566" y="811.6" width="4" height="30.2" fill="#d2d2d2"/><rect x="570" y="811.6" width="5" height="30.2" fill="#aaaaaa"/><rect x="575" y="811.6" width="1" height="30.2" fill="#8e8e8e"/><rect x="576" y="811.6" width="9" height="30.2" fill="#aaaaaa"/><rect x="764" y="811.6" width="3" height="30.2" fill="#d7d7d7"/><rect x="786" y="811.6" width="2" height="30.2" fill="#8e8e8e"/><rect x="788" y="811.6" width="3" height="30.2" fill="#aaaaaa"/><rect x="798" y="811.6" width="2" height="30.2" fill="#aaaaaa"/><rect x="800" y="811.6" width="8" height="30.2" fill="#8e8e8e"/><rect x="808" y="811.6" width="2" height="30.2" fill="#717171"/><rect x="810" y="811.6" width="2" height="30.2" fill="#8e8e8e"/><rect x="812" y="811.6" width="2" height="30.2" fill="#aaaaaa"/><rect x="814" y="811.6" width="3" height="30.2" fill="#c8c8c8"/><rect x="817" y="811.6" width="3" height="30.2" fill="#e4e4e4"/><rect x="820" y="811.6" width="2" height="30.2" fill="#c8c8c8"/><rect x="822" y="811.6" width="2" height="30.2" fill="#aaaaaa"/><rect x="824" y="811.6" width="2" height="30.2" fill="#8e8e8e"/><rect x="826" y="811.6" width="8" height="30.2" fill="#717171"/><rect x="834" y="811.6" width="12" height="30.2" fill="#8e8e8e"/><rect x="846" y="811.6" width="4" height="30.2" fill="#393939"/><rect x="850" y="811.6" width="3" height="30.2" fill="#1c1c1c"/><rect x="1127" y="811.6" width="3" height="30.2" fill="#393939"/><rect x="1130" y="811.6" width="5" height="30.2" fill="#717171"/><rect x="1135" y="811.6" width="2" height="30.2" fill="#8e8e8e"/><rect x="1137" y="811.6" width="5" height="30.2" fill="#aaaaaa"/><rect x="1142" y="811.6" width="3" height="30.2" fill="#c8c8c8"/><rect x="1145" y="811.6" width="4" height="30.2" fill="#aaaaaa"/><rect x="373" y="841.8" width="3" height="29.6" fill="#717171"/><rect x="376" y="841.8" width="3" height="29.6" fill="#8e8e8e"/><rect x="428" y="841.8" width="9" height="29.6" fill="#8e8e8e"/><rect x="437" y="841.8" width="13" height="29.6" fill="#717171"/><rect x="500" y="841.8" width="4" height="29.6" fill="#c6c6c6"/><rect x="504" y="841.8" width="5" height="29.6" fill="#e6e6e6"/><rect x="509" y="841.8" width="5" height="29.6" fill="#c6c6c6"/><rect x="514" y="841.8" width="4" height="29.6" fill="#aaaaaa"/><rect x="518" y="841.8" width="1" height="29.6" fill="#d2d2d2"/><rect x="519" y="841.8" width="6" height="29.6" fill="#aaaaaa"/><rect x="525" y="841.8" width="3" height="29.6" fill="#8e8e8e"/><rect x="528" y="841.8" width="2" height="29.6" fill="#717171"/><rect x="530" y="841.8" width="4" height="29.6" fill="#393939"/><rect x="534" y="841.8" width="6" height="29.6" fill="#1c1c1c"/><rect x="540" y="841.8" width="3" height="29.6" fill="#393939"/><rect x="543" y="841.8" width="6" height="29.6" fill="#717171"/><rect x="549" y="841.8" width="12" height="29.6" fill="#8e8e8e"/><rect x="561" y="841.8" width="5" height="29.6" fill="#aaaaaa"/><rect x="566" y="841.8" width="3" height="29.6" fill="#8e8e8e"/><rect x="569" y="841.8" width="2" height="29.6" fill="#717171"/><rect x="571" y="841.8" width="5" height="29.6" fill="#555555"/><rect x="576" y="841.8" width="5" height="29.6" fill="#1c1c1c"/><rect x="576" y="841.8" width="4" height="29.6" fill="#1c1c1c"/><rect x="580" y="841.8" width="2" height="29.6" fill="#000000"/><rect x="582" y="841.8" width="8" height="29.6" fill="#1c1c1c"/><rect x="590" y="841.8" width="3" height="29.6" fill="#393939"/><rect x="593" y="841.8" width="6" height="29.6" fill="#717171"/><rect x="599" y="841.8" width="3" height="29.6" fill="#8e8e8e"/><rect x="602" y="841.8" width="3" height="29.6" fill="#aaaaaa"/><rect x="620" y="841.8" width="8" height="29.6" fill="#aaaaaa"/><rect x="628" y="841.8" width="4" height="29.6" fill="#8e8e8e"/><rect x="632" y="841.8" width="1" height="29.6" fill="#aaaaaa"/><rect x="633" y="841.8" width="8" height="29.6" fill="#8e8e8e"/><rect x="641" y="841.8" width="4" height="29.6" fill="#aaaaaa"/><rect x="673" y="841.8" width="3" height="29.6" fill="#c6c6c6"/><rect x="676" y="841.8" width="7" height="29.6" fill="#aaaaaa"/><rect x="683" y="841.8" width="5" height="29.6" fill="#c6c6c6"/><rect x="688" y="841.8" width="5" height="29.6" fill="#aaaaaa"/><rect x="693" y="841.8" width="9" height="29.6" fill="#8e8e8e"/><rect x="702" y="841.8" width="7" height="29.6" fill="#aaaaaa"/><rect x="805" y="841.8" width="3" height="29.6" fill="#aaaaaa"/><rect x="808" y="841.8" width="14" height="29.6" fill="#c6c6c6"/><rect x="1115" y="841.8" width="3" height="29.6" fill="#393939"/><rect x="1118" y="841.8" width="6" height="29.6" fill="#555555"/><rect x="1124" y="841.8" width="4" height="29.6" fill="#717171"/><rect x="1128" y="841.8" width="2" height="29.6" fill="#8e8e8e"/><rect x="1130" y="841.8" width="5" height="29.6" fill="#aaaaaa"/><rect x="1135" y="841.8" width="4" height="29.6" fill="#c6c6c6"/><rect x="307" y="932.3" width="1" height="29.5" fill="#c8c8c8"/><rect x="308" y="932.3" width="2" height="29.5" fill="#e6e6e6"/><rect x="329" y="932.3" width="3" height="29.5" fill="#717171"/><rect x="332" y="932.3" width="3" height="29.5" fill="#8e8e8e"/><rect x="335" y="932.3" width="9" height="29.5" fill="#aaaaaa"/><rect x="344" y="932.3" width="2" height="29.5" fill="#717171"/><rect x="346" y="932.3" width="5" height="29.5" fill="#393939"/><rect x="351" y="932.3" width="2" height="29.5" fill="#1c1c1c"/><rect x="356" y="932.3" width="2" height="29.5" fill="#1c1c1c"/><rect x="380" y="932.3" width="2" height="29.5" fill="#1c1c1c"/><rect x="382" y="932.3" width="3" height="29.5" fill="#393939"/><rect x="385" y="932.3" width="3" height="29.5" fill="#1c1c1c"/><rect x="388" y="932.3" width="1" height="29.5" fill="#393939"/><rect x="389" y="932.3" width="2" height="29.5" fill="#1c1c1c"/><rect x="391" y="932.3" width="1" height="29.5" fill="#393939"/><rect x="392" y="932.3" width="5" height="29.5" fill="#1c1c1c"/><rect x="397" y="932.3" width="6" height="29.5" fill="#393939"/><rect x="403" y="932.3" width="3" height="29.5" fill="#1c1c1c"/><rect x="428" y="932.3" width="2" height="29.5" fill="#1c1c1c"/><rect x="430" y="932.3" width="5" height="29.5" fill="#555555"/><rect x="435" y="932.3" width="6" height="29.5" fill="#8e8e8e"/><rect x="441" y="932.3" width="4" height="29.5" fill="#717171"/><rect x="445" y="932.3" width="12" height="29.5" fill="#555555"/><rect x="457" y="932.3" width="4" height="29.5" fill="#717171"/><rect x="461" y="932.3" width="2" height="29.5" fill="#8e8e8e"/><rect x="846" y="932.3" width="2" height="29.5" fill="#717171"/><rect x="848" y="932.3" width="5" height="29.5" fill="#555555"/><rect x="853" y="932.3" width="3" height="29.5" fill="#393939"/><rect x="856" y="932.3" width="2" height="29.5" fill="#1c1c1c"/><rect x="987" y="932.3" width="2" height="29.5" fill="#8e8e8e"/><rect x="989" y="932.3" width="2" height="29.5" fill="#717171"/><rect x="991" y="932.3" width="3" height="29.5" fill="#555555"/><rect x="994" y="932.3" width="4" height="29.5" fill="#393939"/><rect x="998" y="932.3" width="7" height="29.5" fill="#1c1c1c"/><rect x="1005" y="932.3" width="5" height="29.5" fill="#000000"/><rect x="1010" y="932.3" width="3" height="29.5" fill="#1c1c1c"/><rect x="1013" y="932.3" width="4" height="29.5" fill="#555555"/><rect x="1017" y="932.3" width="3" height="29.5" fill="#717171"/><rect x="1020" y="932.3" width="3" height="29.5" fill="#aaaaaa"/><rect x="1023" y="932.3" width="4" height="29.5" fill="#c6c6c6"/><rect x="1027" y="932.3" width="5" height="29.5" fill="#e4e4e4"/><rect x="1051" y="932.3" width="2" height="29.5" fill="#717171"/><rect x="1053" y="932.3" width="2" height="29.5" fill="#555555"/><rect x="1055" y="932.3" width="10" height="29.5" fill="#393939"/><rect x="1118" y="932.3" width="3" height="29.5" fill="#1c1c1c"/><rect x="1121" y="932.3" width="4" height="29.5" fill="#393939"/><rect x="1125" y="932.3" width="5" height="29.5" fill="#8e8e8e"/><rect x="1130" y="932.3" width="2" height="29.5" fill="#aaaaaa"/><rect x="1132" y="932.3" width="5" height="29.5" fill="#c6c6c6"/><rect x="1180" y="932.3" width="4" height="29.5" fill="#717171"/></g>
</svg>
</body></html>
